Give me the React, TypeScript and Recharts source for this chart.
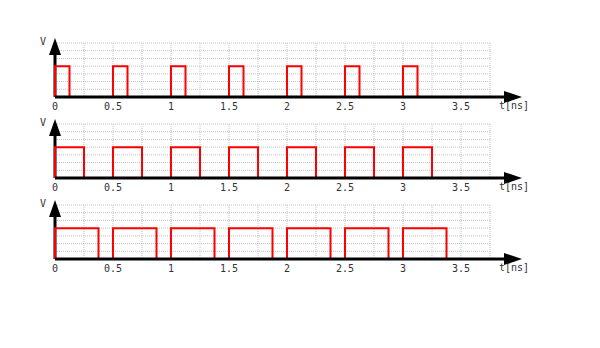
import { LineChart, Line, XAxis, YAxis, CartesianGrid, ReferenceLine, ReferenceDot } from "recharts";

const riseTimes = [0, 0.5, 1, 1.5, 2, 2.5, 3];
const fallTimes1 = [0.125, 0.625, 1.125, 1.625, 2.125, 2.625, 3.125];
const fallTimes2 = [0.25, 0.75, 1.25, 1.75, 2.25, 2.75, 3.25];
const fallTimes3 = [0.375, 0.875, 1.375, 1.875, 2.375, 2.875, 3.375];
const endTime = 3.5;
const highLevel = 4;

const xTicks = [0, 0.25, 0.5, 0.75, 1, 1.25, 1.5, 1.75, 2, 2.25, 2.5, 2.75, 3, 3.25, 3.5, 3.75];
const xLabels = ["0", "0.5", "1", "1.5", "2", "2.5", "3", "3.5"];
const yTicks = [0, 1, 2, 3, 4, 5, 6, 7];

function buildWave(falls: number[]) {
  const pts = [{ t: 0, v: 0 }];
  riseTimes.forEach((r, i) => {
    pts.push({ t: r, v: highLevel });
    pts.push({ t: falls[i], v: 0 });
  });
  pts.push({ t: endTime, v: 0 });
  return pts;
}

const MONO = "'DejaVu Sans Mono', monospace";

const YArrow = (props: any) => {
  const { cx, cy } = props;
  return (
    <g>
      <polygon points={`${cx},${cy - 5} ${cx - 6},${cy + 12} ${cx + 6},${cy + 12}`} fill="#000" />
      <text x={cx - 15} y={cy + 2} fontSize={10} fontFamily={MONO} fill="#333">V</text>
    </g>
  );
};

const XArrow = (props: any) => {
  const { cx, cy } = props;
  return (
    <g>
      <line x1={cx} y1={cy} x2={cx + 16} y2={cy} stroke="#000" strokeWidth={3} />
      <polygon points={`${cx + 14},${cy - 6} ${cx + 32},${cy} ${cx + 14},${cy + 6}`} fill="#000" />
      <text x={cx + 9} y={cy + 12} fontSize={10} fontFamily={MONO} fill="#333">t[ns]</text>
    </g>
  );
};

function Panel({ falls }: { falls: number[] }) {
  const data = buildWave(falls);
  return (
    <LineChart width={580} height={81} data={data} margin={{ top: 13, right: 98, bottom: 0, left: 0 }}>
      <CartesianGrid stroke="#c4c4c4" strokeDasharray="1 1" />
      <XAxis
        dataKey="t"
        type="number"
        domain={[0, 3.75]}
        ticks={xTicks}
        interval={0}
        height={14}
        tickSize={4}
        tickLine={false}
        axisLine={{ stroke: "#000", strokeWidth: 3 }}
        tickFormatter={(v: number) => (xLabels.includes(String(v)) ? String(v) : "")}
        tick={{ fontSize: 10, fontFamily: MONO, fill: "#333" }}
      />
      <YAxis
        width={47}
        type="number"
        domain={[0, 7]}
        ticks={yTicks}
        interval={0}
        axisLine={false}
        tickLine={false}
        tickFormatter={() => ""}
      />
      <ReferenceLine x={0} stroke="#000" strokeWidth={3} />
      <Line
        type="stepAfter"
        dataKey="v"
        stroke="#ff0000"
        strokeWidth={2}
        dot={false}
        activeDot={false}
        isAnimationActive={false}
      />
      <ReferenceDot x={0} y={7} shape={YArrow} />
      <ReferenceDot x={3.75} y={0} shape={XArrow} />
    </LineChart>
  );
}

export default function App() {
  return (
    <div style={{ paddingTop: 22, width: 580 }}>
      <Panel falls={fallTimes1} />
      <Panel falls={fallTimes2} />
      <Panel falls={fallTimes3} />
    </div>
  );
}
